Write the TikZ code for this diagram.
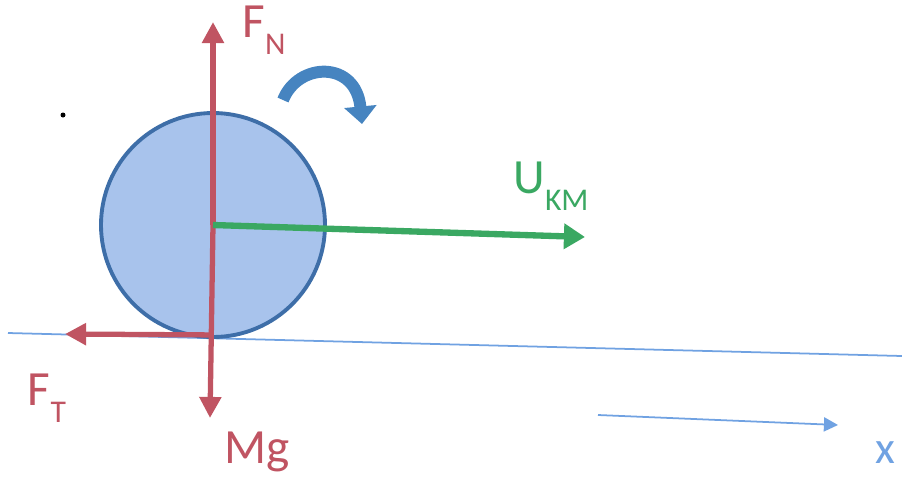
\documentclass[tikz,border=0pt]{standalone}
\usepackage{fontspec}
\setmainfont{Carlito}
\usetikzlibrary{arrows.meta}
\definecolor{forcered}{RGB}{192,84,98}
\definecolor{velgreen}{RGB}{58,168,98}
\definecolor{ballfill}{RGB}{168,195,236}
\definecolor{balledge}{RGB}{62,110,168}
\definecolor{spinblue}{RGB}{70,132,192}
\definecolor{axisblue}{RGB}{112,162,226}
\newcommand{\lowsub}[1]{\raisebox{-0.35em}{\fontsize{9}{9}\selectfont #1}}

\begin{document}
\begin{tikzpicture}[x=0.1mm,y=-0.1mm,
    force/.style={forcered,line width=1.5pt,-{Triangle[width=6pt,length=6pt]}},
    lbl/.style={font=\fontsize{14}{14}\selectfont,inner sep=0pt}]
  \useasboundingbox (0,0) rectangle (902,478);
  % Ground and axis
  \coordinate (g0) at (8,333);
  \coordinate (g1) at (902,356);
  \draw[axisblue,line width=0.5pt] (g0) -- (g1);
  \coordinate (x0) at (598,415);
  \coordinate (x1) at (838,425);
  \draw[axisblue,line width=0.5pt,-{Triangle[width=4pt,length=4pt]}] (x0) -- (x1);
  \node[lbl,axisblue,font=\fontsize{13}{13}\selectfont] (xlab) at (885,453) {x};
  % Ball
  \node[circle,draw=balledge,fill=ballfill,line width=1.1pt,minimum size=22.4mm,inner sep=0pt] (ball) at (213,225) {};
  \fill (63,115) circle (2.5);
  % Forces
  \coordinate (fn) at (213,22);
  \coordinate (mg) at (210,418);
  \coordinate (ft) at (65,334);
  \coordinate (vel) at (585,237);
  \draw[force] (ball.center) -- (fn);
  \draw[force] (ball.center) -- (mg);
  \draw[force] (ball.south) ++(0,-4) coordinate (contact) -- (ft);
  \draw[velgreen,line width=1.8pt,-{Triangle[width=7pt,length=6pt]}] (ball.center) -- (vel);
  \node[lbl,forcered] (fnlab) at (264,30) {F\lowsub{N}};
  \node[lbl,forcered] (ftlab) at (47,398) {F\lowsub{T}};
  \node[lbl,forcered] (mglab) at (257,452) {Mg};
  \node[lbl,velgreen] (ulab) at (551,186) {U\lowsub{KM}};
  % Rotation
  \draw[spinblue,line width=3.4pt,-{Triangle[width=9pt,length=5pt]}]
    (283,100) .. controls (298,62) and (356,60) .. (362,124);
\end{tikzpicture}
\end{document}
